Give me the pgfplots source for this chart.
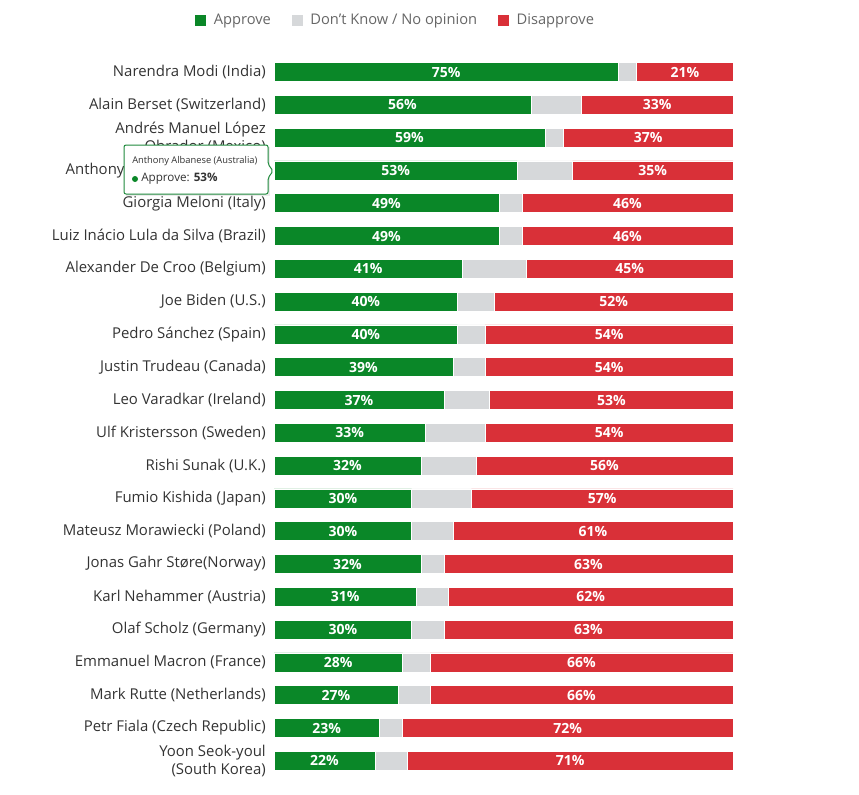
\documentclass[border=0pt]{standalone}
\usepackage{pgfplots}
\pgfplotsset{compat=1.18}
\usepackage{pgfplotstable}
\usepackage{fontspec}
\setmainfont{Open Sans}
\definecolor{appr}{RGB}{10,135,40}
\definecolor{dk}{RGB}{214,216,218}
\definecolor{disap}{RGB}{217,48,56}
\definecolor{lab}{RGB}{51,51,51}
\definecolor{leg}{RGB}{102,102,102}
\definecolor{ttborder}{RGB}{31,138,60}

\pgfplotstableread{
idx A N D
0 75 4 21
1 56 11 33
2 59 4 37
3 53 12 35
4 49 5 46
5 49 5 46
6 41 14 45
7 40 8 52
8 40 6 54
9 39 7 54
10 37 10 53
11 33 13 54
12 32 12 56
13 30 13 57
14 30 9 61
15 32 5 63
16 31 7 62
17 30 7 63
18 28 6 66
19 27 7 66
20 23 5 72
21 22 7 71
}\data

\pgfplotsset{
  common/.style={
    at={(205.5pt,-582.9pt)}, anchor=south west,
    scale only axis, width=344.25pt, height=541.2pt,
    xmin=0, xmax=100, ymin=-0.5, ymax=21.5, y dir=reverse,
    clip=false,
  },
  pct/.style={only marks, mark=none, point meta=explicit,
    nodes near coords={\pgfmathprintnumber[assume math mode=true]{\pgfplotspointmeta}\%},
    every node near coord/.style={anchor=center, inner sep=0pt, font=\fontsize{10.5}{12}\selectfont\bfseries, text=white}},
}

\begin{document}
\begin{tikzpicture}
\useasboundingbox (0pt,0pt) rectangle (644.25pt,-595.5pt);
\begin{axis}[common,
  xbar stacked, bar width=14.25pt,
  axis line style={draw=none}, tick style={draw=none},
  xtick=\empty, ytick={0,...,21},
  yticklabels={Narendra Modi (India), Alain Berset (Switzerland), {Andrés Manuel López\\Obrador (Mexico)}, Anthony Albanese (Australia), Giorgia Meloni (Italy), Luiz Inácio Lula da Silva (Brazil), Alexander De Croo (Belgium), Joe Biden (U.S.), Pedro Sánchez (Spain), Justin Trudeau (Canada), Leo Varadkar (Ireland), Ulf Kristersson (Sweden), Rishi Sunak (U.K.), Fumio Kishida (Japan), Mateusz Morawiecki (Poland), Jonas Gahr Støre(Norway), Karl Nehammer (Austria), Olaf Scholz (Germany), Emmanuel Macron (France), Mark Rutte (Netherlands), Petr Fiala (Czech Republic), {Yoon Seok-youl\\(South Korea)}},
  yticklabel style={align=right, anchor=east, inner sep=0pt, xshift=-6pt, font=\fontsize{11.2}{13.5}\selectfont, text=lab},
  legend style={at={(axis description cs:-0.17429,1.04933)}, anchor=west, legend columns=-1, draw=none, fill=none, inner sep=0pt, font=\fontsize{11}{13}\selectfont, text=leg, nodes={inner sep=0pt},
    /tikz/every odd column/.append style={column sep=5.25pt},
    /tikz/every even column/.append style={column sep=15pt}},
  legend image code/.code={\fill[#1] (0pt,-4.5pt) rectangle (9pt,4.5pt);},
]
\addplot[fill=appr, draw=white, line width=0.4pt] table[x=A, y=idx] {\data};
\addlegendentry{Approve}
\addplot[fill=dk, draw=white, line width=0.4pt] table[x=N, y=idx] {\data};
\addlegendentry{Don't Know / No opinion}
\addplot[fill=disap, draw=white, line width=0.4pt] table[x=D, y=idx] {\data};
\addlegendentry{Disapprove}
\end{axis}
\begin{axis}[common, hide axis]
\addplot[pct] table[x expr=\thisrow{A}/2, y=idx, meta=A] {\data};
\addplot[pct] table[x expr=100-\thisrow{D}/2, y=idx, meta=D] {\data};
\end{axis}
\begin{scope}[x=0.75pt, y=-0.75pt]
  \fill[black, opacity=0.08] (126,147) -- (270,147) -- (270,196) -- (126,196) -- cycle;
  \filldraw[fill=white, draw=ttborder, line width=0.75pt, rounded corners=1.5pt]
    (124,145) -- (268,145) -- (268,164) -- (273,171) -- (268,178) -- (268,194) -- (124,194) -- cycle;
  \node[anchor=west, inner sep=0pt, font=\fontsize{7}{9}\selectfont, text=lab] at (132,161) {Anthony Albanese (Australia)};
  \fill[appr] (135,179) circle (3);
  \node[anchor=west, inner sep=0pt, font=\fontsize{8.75}{10}\selectfont, text=lab] at (141,179) {Approve: \textbf{53\%}};
\end{scope}
\end{tikzpicture}
\end{document}
